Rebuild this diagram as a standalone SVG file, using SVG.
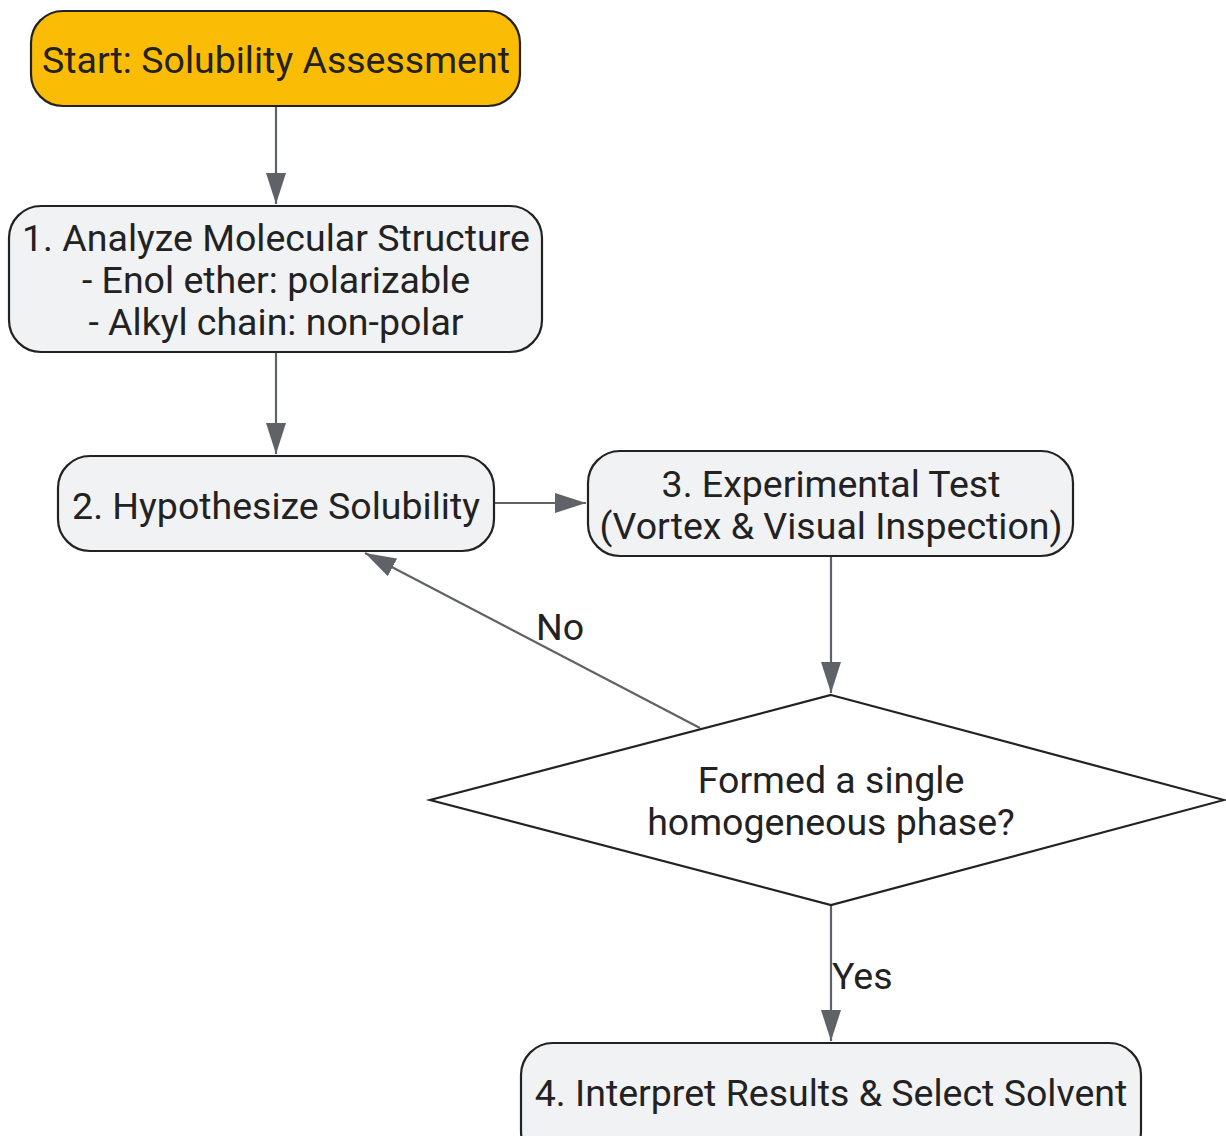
<svg xmlns="http://www.w3.org/2000/svg" width="1226" height="1136" viewBox="0 0 1226 1136">
<style>
.node{fill:#f1f2f4;stroke:#222;stroke-width:2.2}
.start{fill:#fbbc05;stroke:#222;stroke-width:2.2}
.t{font-family:Roboto,"Liberation Sans",sans-serif;font-size:37.5px;fill:#222;text-anchor:middle}
.lbl{font-family:Roboto,"Liberation Sans",sans-serif;font-size:37.5px;fill:#222}
.edge{stroke:#5f6368;stroke-width:2.2;fill:none}
</style>
<defs>
<marker id="ah" viewBox="0 0 31 20" refX="31" refY="10" markerWidth="31" markerHeight="20" markerUnits="userSpaceOnUse" orient="auto">
<path d="M0,0 L31,10 L0,20 z" fill="#5f6368"/>
</marker>
</defs>
<rect width="1226" height="1136" fill="#fff"/>
<g id="connectors">
<line class="edge" x1="276" y1="106" x2="276" y2="204" marker-end="url(#ah)"/>
<line class="edge" x1="276" y1="352" x2="276" y2="454" marker-end="url(#ah)"/>
<line class="edge" x1="494" y1="503" x2="586" y2="503" marker-end="url(#ah)"/>
<line class="edge" x1="831" y1="556" x2="831" y2="693" marker-end="url(#ah)"/>
<line class="edge" x1="700" y1="728" x2="365" y2="553" marker-end="url(#ah)"/>
<line class="edge" x1="831" y1="905" x2="831" y2="1041" marker-end="url(#ah)"/>
<text class="lbl" x="536" y="640">No</text>
<text class="lbl" x="832" y="989">Yes</text>
</g>
<g id="start">
<rect class="start" x="31" y="11" width="489" height="95" rx="32"/>
<text class="t" x="276" y="73">Start: Solubility Assessment</text>
</g>
<g id="step1">
<rect class="node" x="9" y="206" width="533" height="146" rx="32"/>
<text class="t" x="276" y="251">1. Analyze Molecular Structure</text>
<text class="t" x="276" y="293">- Enol ether: polarizable</text>
<text class="t" x="276" y="335">- Alkyl chain: non-polar</text>
</g>
<g id="step2">
<rect class="node" x="58" y="456" width="436" height="95" rx="32"/>
<text class="t" x="276" y="519">2. Hypothesize Solubility</text>
</g>
<g id="step3">
<rect class="node" x="588" y="451" width="485" height="105" rx="32"/>
<text class="t" x="831" y="497">3. Experimental Test</text>
<text class="t" x="831" y="539">(Vortex &amp; Visual Inspection)</text>
</g>
<g id="decision">
<polygon points="831,695 1224,800 831,905 430,800" fill="#fff" stroke="#222" stroke-width="2.2"/>
<text class="t" x="831" y="793">Formed a single</text>
<text class="t" x="831" y="835">homogeneous phase?</text>
</g>
<g id="step4">
<rect class="node" x="521" y="1043" width="620" height="120" rx="32"/>
<text class="t" x="831" y="1106">4. Interpret Results &amp; Select Solvent</text>
</g>
</svg>
